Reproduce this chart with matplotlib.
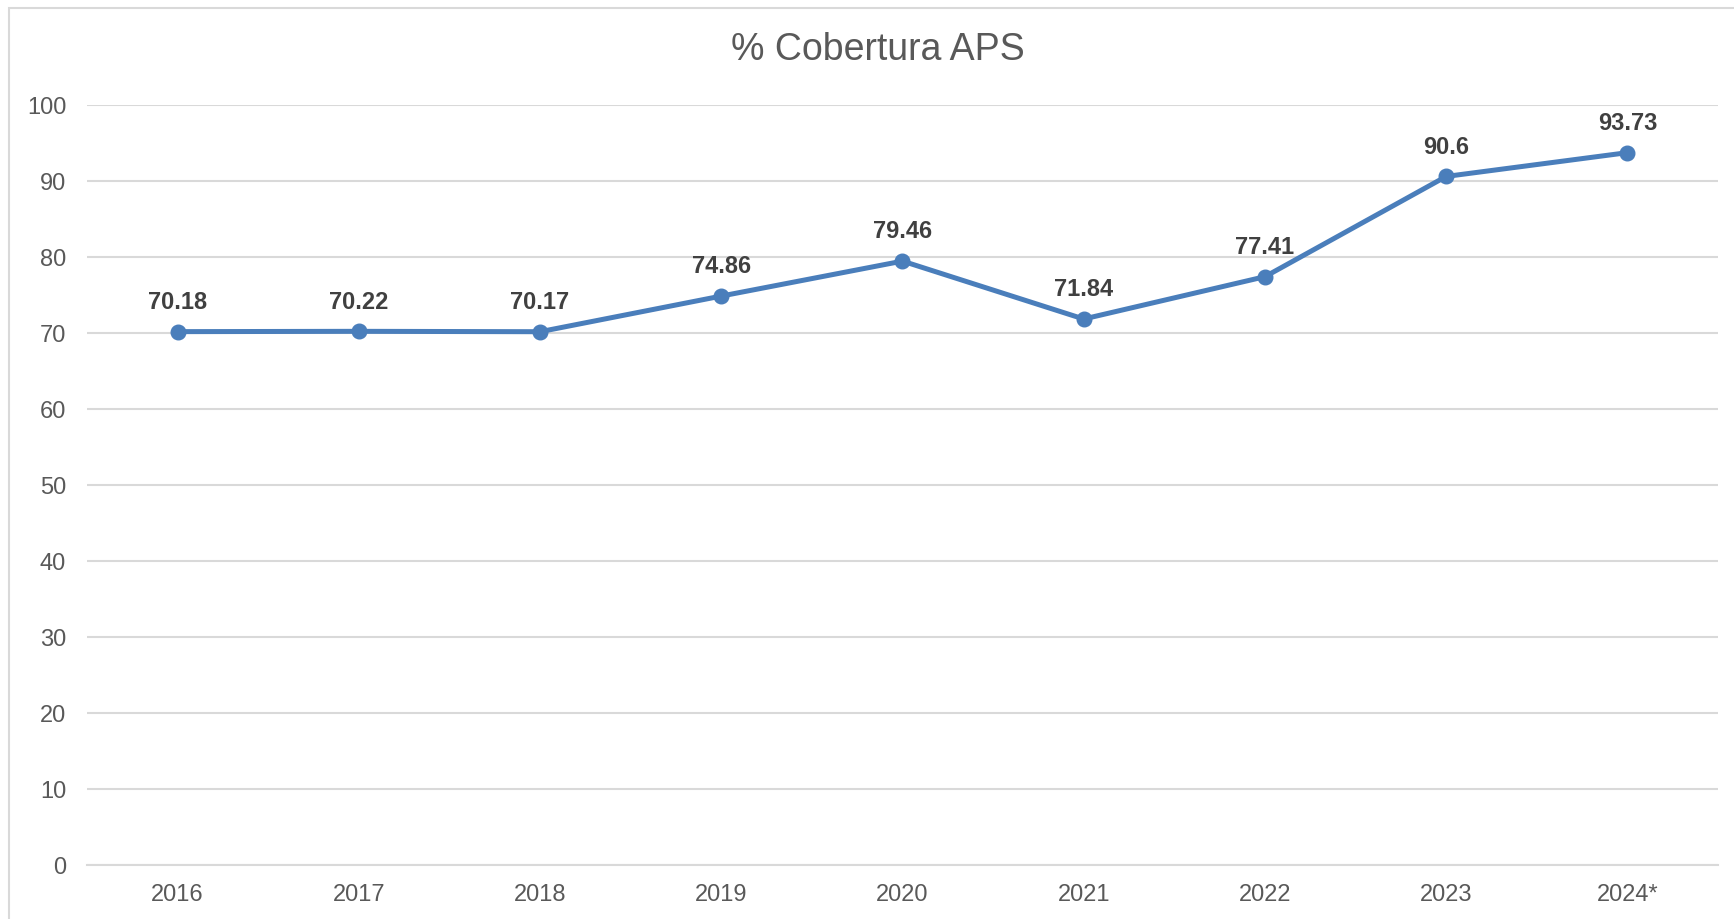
import matplotlib
matplotlib.use('Agg')
import matplotlib.pyplot as plt
from matplotlib.patches import Rectangle

years = ['2016', '2017', '2018', '2019', '2020', '2021', '2022', '2023', '2024*']
coverage = [70.18, 70.22, 70.17, 74.86, 79.46, 71.84, 77.41, 90.6, 93.73]
labels = ['70.18', '70.22', '70.17', '74.86', '79.46', '71.84', '77.41', '90.6', '93.73']

plt.rcParams['font.family'] = ['Liberation Sans', 'DejaVu Sans']

fig = plt.figure(figsize=(17.34, 9.2), dpi=100, facecolor='white')
# chart border (only top/left visible, the rest runs off the image)
top = 1 - 9 / 920
fig.patches.append(Rectangle((9 / 1734, -0.1), 1.2, top + 0.1,
                             transform=fig.transFigure, fill=False,
                             edgecolor='#D9D9D9', linewidth=1.5))

ax = fig.add_axes([87 / 1734, 1 - 866 / 920, (1718 - 87) / 1734, (866 - 106) / 920])
x = range(len(years))
ax.plot(x, coverage, color='#4A7EBB', linewidth=3.6, marker='o', markersize=10.5,
        solid_capstyle='round', zorder=3)
for xi, yi, lab in zip(x, coverage, labels):
    ax.annotate(lab, (xi, yi), xytext=(0, 17), textcoords='offset points',
                ha='center', va='baseline', fontsize=17, fontweight='bold',
                color='#404040')

ax.set_xlim(-0.5, len(years) - 0.5)
ax.set_ylim(0, 100)
ax.set_yticks(range(0, 101, 10))
ax.set_xticks(list(x))
ax.set_xticklabels(years)
ax.grid(axis='y', color='#D9D9D9', linewidth=1.5)
ax.set_axisbelow(True)
for s in ['top', 'right', 'left']:
    ax.spines[s].set_visible(False)
ax.spines['bottom'].set_color('#D9D9D9')
ax.spines['bottom'].set_linewidth(1.5)
ax.tick_params(axis='both', length=0, labelsize=17, labelcolor='#595959')
ax.tick_params(axis='y', pad=15)
ax.tick_params(axis='x', pad=13)

fig.text(878 / 1734, 1 - 50 / 920, '% Cobertura APS', ha='center', va='center',
         fontsize=27, color='#595959')

fig.savefig('out.png', dpi=100, facecolor='white')
